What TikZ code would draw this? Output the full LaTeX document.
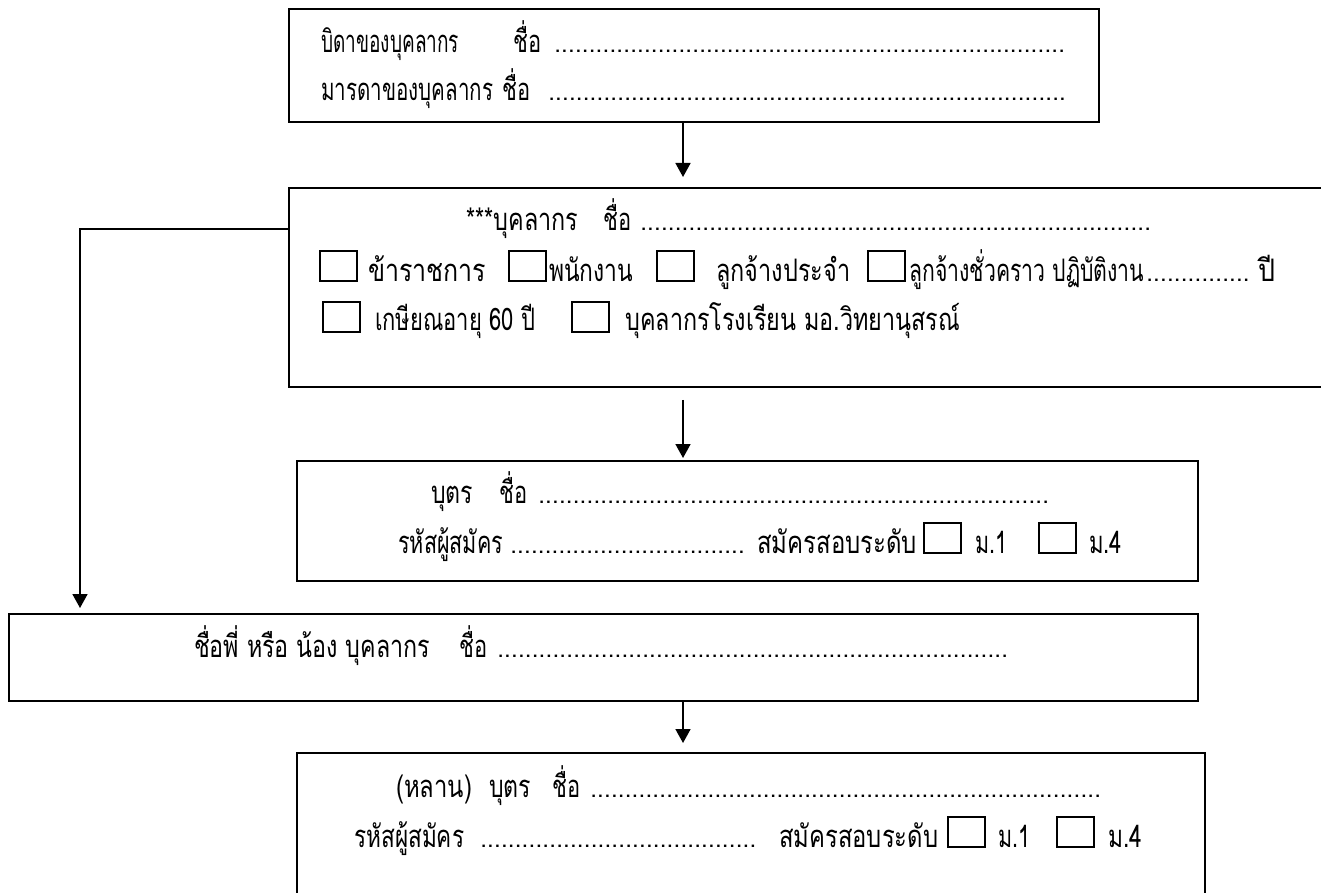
\documentclass[tikz,border=0pt]{standalone}
\usepackage{fontspec}
\usepackage{graphicx}
\newfontfamily\thaifont[Script=Thai]{Loma}
\usetikzlibrary{arrows.meta}
\newcommand\thaisz{\thaifont\fontsize{31}{36}\selectfont}
\newlength\fw
\newcommand\F[2]{\settowidth\fw{#2}\pgfmathsetmacro\fsx{#1/\fw}\scalebox{\fsx}[1]{#2}}
\newcommand\dotrun[1]{{\fontsize{24}{28}\selectfont\hbox to #1pt{\leaders\hbox to 6.9pt{\hss.\hss}\hfill}}}
\begin{document}
\begin{tikzpicture}[x=1pt,y=-1pt,
  box/.style={draw, line width=1.8pt, anchor=north west, inner sep=0pt},
  cbox/.style={draw, line width=1.6pt, minimum width=37pt, minimum height=30pt, anchor=south west, inner sep=0pt},
  tx/.style={anchor=base west, inner sep=0pt, font=\thaisz},
  arr/.style={line width=1.7pt, -{Triangle[length=14pt,width=15pt]}}]
\useasboundingbox (0,0) rectangle (1321,893);
\clip (0,0) rectangle (1321,893);
% boxes
\node[box, minimum width=810pt, minimum height=113pt] (b1) at (288,8) {};
\node[box, minimum width=1050pt, minimum height=199pt] (b2) at (288,187) {};
\node[box, minimum width=901pt, minimum height=120pt] (b3) at (296,460) {};
\node[box, minimum width=1189pt, minimum height=87pt] (b4) at (8,613) {};
\node[box, minimum width=908pt, minimum height=170pt] (b5) at (296,752) {};
% connectors
\coordinate (ax) at (683,0);
\draw[arr, shorten >=10pt] (b1.south -| ax) -- (b2.north -| ax);
\draw[arr, shorten <=12pt, shorten >=2pt] (b2.south -| ax) -- (b3.north -| ax);
\draw[arr, shorten >=9pt] (b4.south -| ax) -- (b5.north -| ax);
\coordinate (lk) at (80,229);
\draw[arr, shorten >=5pt] (b2.west |- lk) -- (lk) -- (lk |- b4.north);
% box 1 text
\node[tx] (t1a) at (321,53) {\F{138}{บิดาของบุคลากร}};
\node[tx] (t1b) at (513,53) {\F{28}{ชื่อ}};
\node[tx] (t1c) at (554,53) {\dotrun{513}};
\node[tx] (t1d) at (321,101) {\F{172}{มารดาของบุคลากร}};
\node[tx] (t1e) at (502,101) {\F{28}{ชื่อ}};
\node[tx] (t1f) at (548,101) {\dotrun{520}};
% box 2 text
\node[tx] (t2a) at (466,230) {\F{112}{***บุคลากร}};
\node[tx] (t2b) at (603,230) {\F{28}{ชื่อ}};
\node[tx] (t2c) at (640,230) {\dotrun{512}};
\node[cbox] (c21) at (319,282) {};
\node[tx] (t2d) at (368,281) {\F{118}{ข้าราชการ}};
\node[cbox] (c22) at (508,282) {};
\node[tx] (t2e) at (549,281) {\F{84}{พนักงาน}};
\node[cbox] (c23) at (656,282) {};
\node[tx] (t2f) at (716,281) {\F{134}{ลูกจ้างประจำ}};
\node[cbox] (c24) at (867,282) {};
\node[tx] (t2g) at (909,281) {\F{235}{ลูกจ้างชั่วคราว ปฏิบัติงาน}};
\node[tx] (t2h) at (1146,281) {\dotrun{109}};
\node[tx] (t2i) at (1258,281) {\F{17}{ปี}};
\node[cbox] (c25) at (322,333) {};
\node[tx] (t2j) at (375,330) {\F{160}{เกษียณอายุ 60 ปี}};
\node[cbox] (c26) at (571,333) {};
\node[tx] (t2k) at (625,330) {\F{335}{บุคลากรโรงเรียน มอ.วิทยานุสรณ์}};
% box 3 text
\node[tx] (t3a) at (431,503) {\F{42}{บุตร}};
\node[tx] (t3b) at (499,503) {\F{28}{ชื่อ}};
\node[tx] (t3c) at (538,503) {\dotrun{515}};
\node[tx] (t3d) at (398,553) {\F{105}{รหัสผู้สมัคร}};
\node[tx] (t3e) at (510,553) {\dotrun{235}};
\node[tx] (t3f) at (757,553) {\F{160}{สมัครสอบระดับ}};
\node[cbox] (c31) at (923,554) {};
\node[tx] (t3g) at (975,553) {\F{32}{ม.1}};
\node[cbox] (c32) at (1038,554) {};
\node[tx] (t3h) at (1089,553) {\F{33}{ม.4}};
% box 4 text
\node[tx] (t4a) at (194,657) {\F{236}{ชื่อพี่ หรือ น้อง บุคลากร}};
\node[tx] (t4b) at (459,657) {\F{28}{ชื่อ}};
\node[tx] (t4c) at (497,657) {\dotrun{511}};
% box 5 text
\node[tx] (t5a) at (396,797) {\F{76}{(หลาน)}};
\node[tx] (t5b) at (489,797) {\F{42}{บุตร}};
\node[tx] (t5c) at (552,797) {\F{28}{ชื่อ}};
\node[tx] (t5d) at (590,797) {\dotrun{512}};
\node[tx] (t5e) at (354,847) {\F{110}{รหัสผู้สมัคร}};
\node[tx] (t5f) at (480,847) {\dotrun{282}};
\node[tx] (t5g) at (779,847) {\F{159}{สมัครสอบระดับ}};
\node[cbox] (c51) at (947,848) {};
\node[tx] (t5h) at (998,847) {\F{32}{ม.1}};
\node[cbox] (c52) at (1056,848) {};
\node[tx] (t5i) at (1108,847) {\F{34}{ม.4}};
\end{tikzpicture}
\end{document}
